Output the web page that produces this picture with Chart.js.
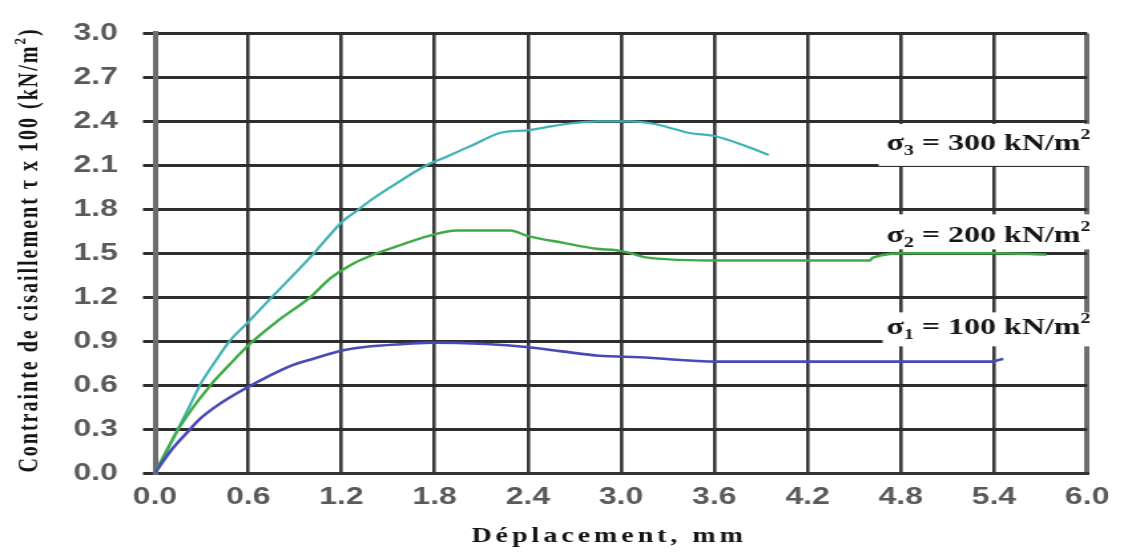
<!DOCTYPE html>
<html><head><meta charset="utf-8">
<script src="https://cdn.jsdelivr.net/npm/chart.js@4.4.1/dist/chart.umd.min.js"></script>
<style>
html,body{margin:0;padding:0;background:#fff;overflow:hidden}
#c{display:block}
</style>
</head><body>
<canvas id="c" width="845" height="556" style="width:1124px;height:556px"></canvas>
<script>
// ---- data ----
const xTickLabels = ['0.0','0.6','1.2','1.8','2.4','3.0','3.6','4.2','4.8','5.4','6.0'];
const yTickLabels = ['0.0','0.3','0.6','0.9','1.2','1.5','1.8','2.1','2.4','2.7','3.0'];
const seriesSub = ['1','2','3'];
const seriesStress = ['100','200','300'];

// sigma1 = 100 kN/m2
const s1x = [0,0.10,0.21,0.29,0.40,0.57,0.87,1.02,1.22,1.35,1.61,1.79,2.13,2.39,2.62,2.86,3.12,3.62,5.38,5.46];
const s1y = [0,0.15,0.28,0.37,0.46,0.57,0.73,0.78,0.84,0.86,0.88,0.89,0.88,0.86,0.83,0.80,0.79,0.76,0.76,0.78];

// sigma2 = 200 kN/m2
const s2x = [0,0.14,0.24,0.35,0.48,0.61,0.78,1.00,1.13,1.26,1.43,1.51,1.77,1.94,2.29,2.39,2.63,2.84,2.97,3.06,3.17,3.64,4.60,4.62,4.86,5.41,5.74];
const s2y = [0,0.28,0.44,0.59,0.74,0.88,1.03,1.20,1.33,1.42,1.50,1.53,1.62,1.655,1.655,1.62,1.57,1.53,1.52,1.50,1.47,1.45,1.45,1.47,1.50,1.50,1.49];

// sigma3 = 300 kN/m2
const s3x = [0,0.10,0.22,0.30,0.40,0.48,0.60,0.77,0.89,1.04,1.21,1.30,1.40,1.56,1.73,1.88,2.05,2.22,2.41,2.52,2.67,2.85,3.06,3.20,3.30,3.44,3.60,3.78,3.95];
const s3y = [0,0.20,0.45,0.62,0.78,0.90,1.03,1.22,1.35,1.52,1.72,1.79,1.87,1.98,2.09,2.16,2.24,2.32,2.34,2.36,2.385,2.40,2.40,2.385,2.36,2.32,2.30,2.24,2.17];

const mk = (xs, ys) => xs.map((x, i) => ({x: x, y: ys[i]}));

// label anchors in data units (right edge x, baseline y) and box extents
const labelDefs = [
  {i: 2, x: 6.02, y: 2.205, padL: 6, above: 26, below: 16},
  {i: 1, x: 6.02, y: 1.574, padL: 16, above: 28, below: 7},
  {i: 0, x: 6.02, y: 0.946, padL: 3, above: 22, below: 12}
];

const SERIF = '"Liberation Serif", "Times New Roman", serif';

function drawParts(ctx, parts, left, base) {
  let x = left;
  parts.forEach(p => {
    ctx.font = 'bold ' + p.size + 'px ' + SERIF;
    ctx.fillText(p.t, x, base + (p.dy || 0));
    x += ctx.measureText(p.t).width;
  });
}
function partsWidth(ctx, parts) {
  let w = 0;
  parts.forEach(p => { ctx.font = 'bold ' + p.size + 'px ' + SERIF; w += ctx.measureText(p.t).width; });
  return w;
}

const annot = {
  id: 'annot',
  afterDatasetsDraw(chart) {
    const ctx = chart.ctx, xs = chart.scales.x, ys = chart.scales.y;
    labelDefs.forEach(d => {
      const parts = [
        {t: 'σ', size: 24},
        {t: seriesSub[d.i], size: 15, dy: 5},
        {t: ' = ' + seriesStress[d.i] + ' kN/m', size: 24},
        {t: '2', size: 15, dy: -11}
      ];
      const right = xs.getPixelForValue(d.x);
      const base = ys.getPixelForValue(d.y);
      ctx.save();
      const w = partsWidth(ctx, parts);
      const left = right - w;
      ctx.fillStyle = '#ffffff';
      ctx.fillRect(left - d.padL, base - d.above, w + d.padL + 5, d.above + d.below);
      ctx.fillStyle = '#151515';
      ctx.textBaseline = 'alphabetic';
      ctx.textAlign = 'left';
      drawParts(ctx, parts, left, base);
      ctx.restore();
    });
  },
  afterDraw(chart) {
    const ctx = chart.ctx;
    // y axis title
    ctx.save();
    ctx.fillStyle = '#151515';
    ctx.textBaseline = 'alphabetic';
    ctx.textAlign = 'left';
    ctx.letterSpacing = '2px';
    const yParts = [
      {t: 'Contrainte de cisaillement τ x 100 (kN/m', size: 20},
      {t: '2', size: 13, dy: -9},
      {t: ')', size: 20}
    ];
    ctx.translate(27.8, 250);
    ctx.rotate(-Math.PI / 2);
    const wy = partsWidth(ctx, yParts);
    drawParts(ctx, yParts, -wy / 2, 0);
    ctx.restore();
    // x axis title
    ctx.save();
    ctx.fillStyle = '#151515';
    ctx.textBaseline = 'alphabetic';
    ctx.textAlign = 'left';
    ctx.letterSpacing = '3px';
    const xParts = [{t: 'Déplacement, mm', size: 21}];
    const wx = partsWidth(ctx, xParts);
    drawParts(ctx, xParts, 458 - wx / 2, 542);
    ctx.restore();
  }
};

const edge = c => c.tick && (Math.abs(c.tick.value) < 1e-9 || Math.abs(c.tick.value - 6) < 1e-9);
const tickFont = {family: '"Liberation Sans", Arial, sans-serif', size: 24, weight: 'bold'};
const lineBase = {pointRadius: 0, cubicInterpolationMode: 'monotone', fill: false};

const chart = new Chart(document.getElementById('c').getContext('2d'), {
  type: 'line',
  data: {
    datasets: [
      Object.assign({data: mk(s1x, s1y), borderColor: '#4a4ab6', borderWidth: 2.6}, lineBase),
      Object.assign({data: mk(s2x, s2y), borderColor: '#3fab45', borderWidth: 2.4}, lineBase),
      Object.assign({data: mk(s3x, s3y), borderColor: '#3fb2b6', borderWidth: 2.2}, lineBase)
    ]
  },
  options: {
    responsive: false,
    animation: false,
    devicePixelRatio: 1,
    layout: {padding: {top: 28, right: 27.7, left: 0, bottom: 0}},
    plugins: {legend: {display: false}, tooltip: {enabled: false}},
    scales: {
      x: {
        type: 'linear', min: 0, max: 6,
        ticks: {stepSize: 0.6, padding: 10, color: '#5a5a5a', font: tickFont, autoSkip: false, maxRotation: 0,
                callback: (v, i) => xTickLabels[i]},
        grid: {color: c => edge(c) ? '#6e6e6e' : '#3a3a3a', lineWidth: c => edge(c) ? 4 : 2.6, drawTicks: false},
        border: {display: true, color: '#333333', width: 3},
        afterFit: s => { s.height = 83; }
      },
      y: {
        type: 'linear', min: 0, max: 3,
        ticks: {stepSize: 0.3, padding: 19, color: '#5a5a5a', font: tickFont, autoSkip: false,
                callback: (v, i) => yTickLabels[i]},
        grid: {color: '#2e2e2e', lineWidth: 3, tickLength: 9},
        border: {display: true, color: '#6e6e6e', width: 4},
        afterFit: s => { s.width = 116.5; }
      }
    }
  },
  plugins: [annot]
});
const cv = document.getElementById('c');
cv.style.width = '1124px';
cv.style.height = '556px';
</script>
</body></html>
